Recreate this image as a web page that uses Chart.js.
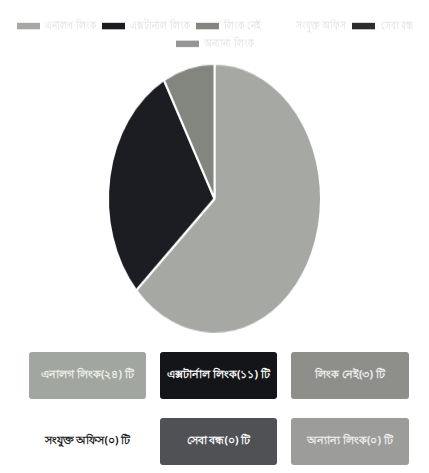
<!DOCTYPE html>
<html lang="bn">
<head>
    <meta charset="UTF-8">
    <title>লিংক অবস্থা</title>
    <style>
        body {
            margin: 0;
            background: #fff;
            font-family: "Noto Sans", "DejaVu Sans", sans-serif;
            width: 429px;
            overflow: hidden;
        }
        #chartBox {
            height: 343px;
            width: 429px;
        }
        #chartInner {
            width: 429px;
            height: 270px;
            transform: scaleY(1.27);
            transform-origin: top left;
        }
        #buttons {
            display: grid;
            grid-template-columns: 117px 117px 118px;
            column-gap: 14px;
            row-gap: 19px;
            padding: 9px 0 0 29px;
        }
        .btn {
            height: 47px;
            border-radius: 3px;
            color: #f2f2f2;
            font-size: 10.5px;
            font-weight: bold;
            display: flex;
            align-items: center;
            justify-content: center;
            white-space: nowrap;
        }
    </style>
    <script src="https://cdn.jsdelivr.net/npm/chart.js"></script>
</head>
<body>
    <div id="chartBox"><div id="chartInner"><canvas id="pieChart"></canvas></div></div>
    <div id="buttons"></div>

    <script>
        const labels = ['এনালগ লিংক', 'এক্সটার্নাল লিংক', 'লিংক নেই', 'সংযুক্ত অফিস', 'সেবা বন্ধ', 'অন্যান্য লিংক'];
        const values = [24, 11, 3, 0, 0, 0];
        const colors = ['#a6a9a3', '#1c1d22', '#83857f', '#ffffff', '#2c2d31', '#959693'];
        const buttonColors = ['#a2a6a0', '#141518', '#8e8f8b', '#ffffff', '#505154', '#9c9d9a'];
        const textColors = ['#eef0ec', '#ffffff', '#f0f0f0', '#1a1a1a', '#ffffff', '#eeeeee'];

        const bnDigits = ['০', '১', '২', '৩', '৪', '৫', '৬', '৭', '৮', '৯'];
        function toBn(n) {
            return String(n).split('').map(d => bnDigits[+d]).join('');
        }

        const box = document.getElementById('buttons');
        labels.forEach((lbl, i) => {
            const b = document.createElement('div');
            b.className = 'btn';
            b.style.background = buttonColors[i];
            b.style.color = textColors[i];
            b.textContent = lbl + '(' + toBn(values[i]) + ') টি';
            box.appendChild(b);
        });

        const ctx = document.getElementById('pieChart').getContext('2d');
        new Chart(ctx, {
            type: 'pie',
            data: {
                labels: labels,
                datasets: [{
                    data: values,
                    backgroundColor: colors,
                    borderColor: '#ffffff',
                    borderWidth: 2
                }]
            },
            options: {
                responsive: true,
                maintainAspectRatio: false,
                animation: false,
                layout: { padding: { top: 11, bottom: 6 } },
                plugins: {
                    legend: {
                        position: 'top',
                        labels: {
                            boxWidth: 25,
                            boxHeight: 7,
                            padding: 5,
                            color: '#dcdcdc',
                            font: { size: 9 }
                        }
                    },
                    tooltip: { enabled: false }
                }
            }
        });
    </script>
</body>
</html>
